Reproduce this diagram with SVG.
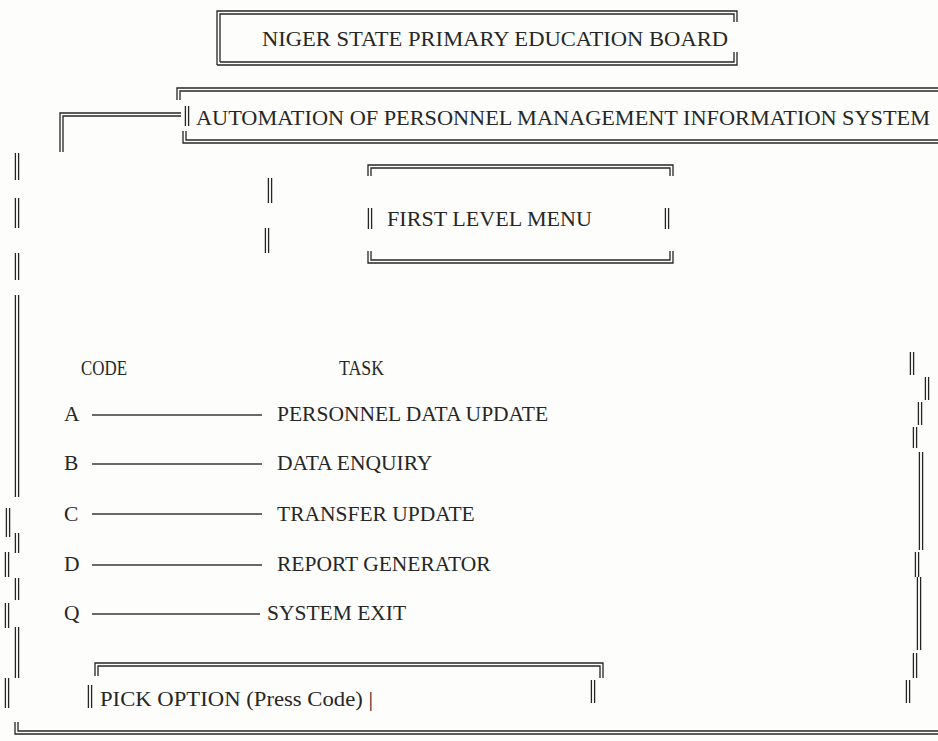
<svg xmlns="http://www.w3.org/2000/svg" width="938" height="741" viewBox="0 0 938 741">
<style>
.dl{fill:none;stroke:#262626;stroke-width:1.3}
.ln{fill:none;stroke:#3a3a3a;stroke-width:1.4}
.t{font-family:"Liberation Serif","Times New Roman",serif;fill:#262626}
.h{font-size:21px}
.r{font-size:21.5px}
</style>
<rect width="938" height="741" fill="#fdfdfc"/>

<g id="title">
<path class="dl" d="M217 65V11H737V22M220 62V14H734V22M217 65H737V52M220 62H734V52"/>
<text class="t" font-size="22" x="262" y="46" textLength="466" lengthAdjust="spacingAndGlyphs">NIGER STATE PRIMARY EDUCATION BOARD</text>
</g>

<g id="system">
<path class="dl" d="M177 100V88H938M180 100V91H938M183 131V143H938M186 131V140H938M185.4 106V126M188.6 106V126"/>
<text class="t" font-size="22" x="196" y="125" textLength="734" lengthAdjust="spacingAndGlyphs">AUTOMATION OF PERSONNEL MANAGEMENT INFORMATION SYSTEM</text>
</g>

<g id="menu">
<path class="dl" d="M368 176V165H673V176M371 176V168H670V176M368 251V263H673V251M371 251V260H670V251M368.4 208V229M371.6 208V229M665.4 208V229M668.6 208V229"/>
<text class="t h" x="387" y="226" textLength="205" lengthAdjust="spacingAndGlyphs">FIRST LEVEL MENU</text>
</g>

<g id="frame">
<path class="dl" d="M268.4 178V203M271.6 178V203M265.4 228V253M268.6 228V253"/>
<path class="dl" d="M15.4 153V180M18.6 153V180M15.4 198V228M18.6 198V228M15.4 253V280M18.6 253V280M15.4 295V497M18.6 295V497M6.4 508V537M9.6 508V537M15.4 533V553M18.6 533V553M5.4 552V577M8.6 552V577M15.4 578V600M18.6 578V600M5.4 603V628M8.6 603V628M15.4 627V678M18.6 627V678M5.4 678V708M8.6 678V708"/>
<path class="dl" d="M15 722V734H938M18 722V731H938"/>
<path class="dl" d="M910.4 352V375M913.6 352V375M925.4 377V400M928.6 377V400M918.4 402V425M921.6 402V425M913.4 427V448M916.6 427V448M919.4 452V550M922.6 452V550M915.4 552V577M918.6 552V577M917.4 577V650M920.6 577V650M913.4 653V678M916.6 653V678M906.4 680V703M909.6 680V703"/>
</g>

<g id="header">
<text class="t r" x="81" y="375" textLength="46" lengthAdjust="spacingAndGlyphs">CODE</text>
<text class="t r" x="339" y="375" textLength="45" lengthAdjust="spacingAndGlyphs">TASK</text>
</g>

<g id="row-a"><text class="t r" x="64" y="421">A</text><text class="t r" x="277" y="421">PERSONNEL DATA UPDATE</text></g>
<g id="row-b"><text class="t r" x="64" y="470">B</text><text class="t r" x="277" y="470">DATA ENQUIRY</text></g>
<g id="row-c"><text class="t r" x="64" y="521">C</text><text class="t r" x="277" y="521">TRANSFER UPDATE</text></g>
<g id="row-d"><text class="t r" x="64" y="571">D</text><text class="t r" x="277" y="571">REPORT GENERATOR</text></g>
<g id="row-q"><text class="t r" x="64" y="620">Q</text><text class="t r" x="267" y="620">SYSTEM EXIT</text></g>

<g id="pick">
<path class="dl" d="M95 676V663H603V678M98 676V666H600V678M88.4 685V708M91.6 685V708M591.4 680V703M594.6 680V703"/>
<text class="t" font-size="20" x="100" y="706" textLength="273" lengthAdjust="spacingAndGlyphs">PICK OPTION (Press Code) |</text>
</g>

<g id="connectors">
<path class="dl" d="M60 152V113H181M63 152V116H181"/>
<path class="ln" d="M92 415H262M92 464H262M92 514H262M92 565H262M92 614H260"/>
</g>
</svg>
